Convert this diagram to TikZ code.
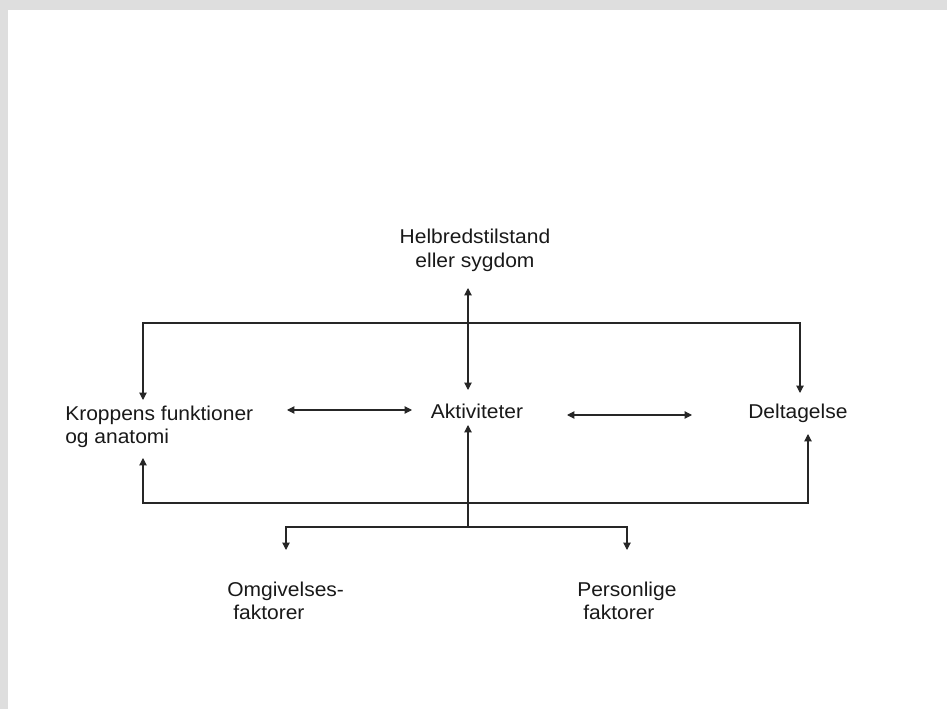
\documentclass[tikz,border=0pt]{standalone}
\usepackage{fontspec}
\setmainfont[FakeStretch=1.05]{Liberation Sans}
\usetikzlibrary{arrows.meta}
\tikzset{
  lbl/.style={inner sep=0pt, font=\fontsize{15pt}{18pt}\selectfont, text=black!90},
  conn/.style={draw=black!85, line width=0.8pt},
  tip/.style={-{Triangle[length=5.5pt,width=5.5pt]}},
  both/.style={{Triangle[length=5.5pt,width=5.5pt]}-{Triangle[length=5.5pt,width=5.5pt]}}
}
\begin{document}
\begin{tikzpicture}[x=0.75pt,y=-0.75pt]
\useasboundingbox (0,0) rectangle (947,709);
\fill[black!13] (0,0) rectangle (947,709);
\fill[white] (8,10) rectangle (947,709);

% texts
\node[lbl, anchor=base] (helb1) at (475,244) {Helbredstilstand};
\node[lbl, anchor=base] (helb2) at (475,268) {eller sygdom};
\node[lbl, anchor=base west] (krop1) at (65,421) {Kroppens funktioner};
\node[lbl, anchor=base west] (krop2) at (65,444) {og anatomi};
\node[lbl, anchor=base] (akt) at (477,419) {Aktiviteter};
\node[lbl, anchor=base west] (delt) at (748,419) {Deltagelse};
\node[lbl, anchor=base west] (omg1) at (227,596) {Omgivelses-};
\node[lbl, anchor=base west] (omg2) at (233,619) {faktorer};
\node[lbl, anchor=base west] (pers1) at (577,596) {Personlige};
\node[lbl, anchor=base west] (pers2) at (583,619) {faktorer};

% connector end points
\coordinate (hTop) at (468,288);
\coordinate (hBot) at (468,390);
\coordinate (kTop) at (143,400);
\coordinate (kBot) at (143,458);
\coordinate (dTop) at (800,393);
\coordinate (dBot) at (808,434);
\coordinate (kaL) at (287,410);
\coordinate (kaR) at (412,410);
\coordinate (adL) at (567,415);
\coordinate (adR) at (692,415);
\coordinate (aBot) at (468,425);
\coordinate (jn) at (468,527);
\coordinate (oTip) at (286,550);
\coordinate (pTip) at (627,550);

% connectors
\draw[conn, both] (hTop) -- (hBot);
\draw[conn, tip] (hTop |- 0,323) -| (kTop);
\draw[conn, tip] (hTop |- 0,323) -| (dTop);
\draw[conn, both] (kaL) -- (kaR);
\draw[conn, both] (adL) -- (adR);
\draw[conn, tip] (jn) -- (aBot);
\draw[conn, tip] (jn |- 0,503) -| (kBot);
\draw[conn, tip] (jn |- 0,503) -| (dBot);
\draw[conn, tip] (jn) -| (oTip);
\draw[conn, tip] (jn) -| (pTip);
\end{tikzpicture}
\end{document}
